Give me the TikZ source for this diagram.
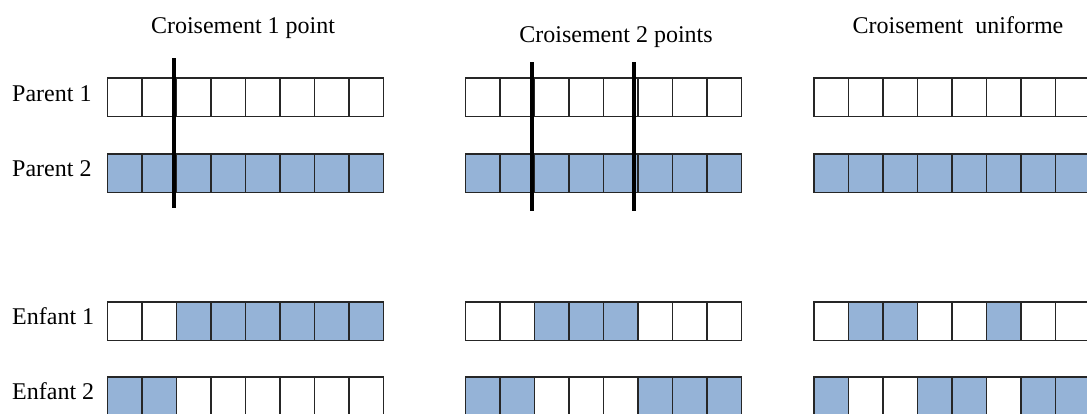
\documentclass[tikz,border=0pt]{standalone}
\usepackage{fontspec}
\setmainfont{Liberation Serif}
\usetikzlibrary{positioning, calc}
\definecolor{geneBlue}{RGB}{149,179,215}
\definecolor{geneEdge}{RGB}{38,38,38}

% one chromosome: name, left x, centre y, list of gene styles
\newcommand{\chromo}[4]{%
  \foreach \g [count=\i] in {#4}
    \node[cell, \g] (#1-\i) at ({#2+(\i-0.5)*34.5}, #3) {};%
}

\begin{document}
\begin{tikzpicture}[
    x=1pt, y=-1pt,
    cell/.style={rectangle, draw=geneEdge, line width=1.3pt, minimum width=34.5pt, minimum height=38.5pt, inner sep=0pt, outer sep=0pt},
    blank/.style={fill=white},
    filled/.style={fill=geneBlue},
    cutline/.style={line width=4pt, black},
    title/.style={font=\fontsize{24}{28}\selectfont, anchor=base, inner sep=0pt},
    rowlbl/.style={font=\fontsize{24}{28}\selectfont, anchor=base west, inner sep=0pt}
]
\useasboundingbox (0,0) rectangle (1087,413);

% --- Titles ---
\node[title] (titA) at (243,33) {Croisement 1 point};
\node[title] (titB) at (616,42) {Croisement 2 points};
\node[title] (titC) at (958,33) {Croisement~~uniforme};

% --- Row labels ---
\node[rowlbl] (lp1) at (12,101) {Parent 1};
\node[rowlbl] (lp2) at (12,176) {Parent 2};
\node[rowlbl] (le1) at (12,324) {Enfant 1};
\node[rowlbl] (le2) at (12,399) {Enfant 2};

% --- Croisement 1 point ---
\chromo{a-p1}{107.5}{97.3}{blank,blank,blank,blank,blank,blank,blank,blank}
\chromo{a-p2}{107.5}{173.3}{filled,filled,filled,filled,filled,filled,filled,filled}
\chromo{a-e1}{107.5}{321.3}{blank,blank,filled,filled,filled,filled,filled,filled}
\chromo{a-e2}{107.5}{396.3}{filled,filled,blank,blank,blank,blank,blank,blank}

% --- Croisement 2 points ---
\chromo{b-p1}{465.5}{97.3}{blank,blank,blank,blank,blank,blank,blank,blank}
\chromo{b-p2}{465.5}{173.3}{filled,filled,filled,filled,filled,filled,filled,filled}
\chromo{b-e1}{465.5}{321.3}{blank,blank,filled,filled,filled,blank,blank,blank}
\chromo{b-e2}{465.5}{396.3}{filled,filled,blank,blank,blank,filled,filled,filled}

% --- Croisement uniforme ---
\chromo{c-p1}{814}{97.3}{blank,blank,blank,blank,blank,blank,blank,blank}
\chromo{c-p2}{814}{173.3}{filled,filled,filled,filled,filled,filled,filled,filled}
\chromo{c-e1}{814}{321.3}{blank,filled,filled,blank,blank,filled,blank,blank}
\chromo{c-e2}{814}{396.3}{filled,blank,blank,filled,filled,blank,filled,filled}

% --- Cut points ---
\coordinate (cutA-top) at ($(a-p1-2.north east)+(-3,-20)$);
\coordinate (cutA-bot) at ($(a-p2-2.south east)+(-3,15)$);
\coordinate (cutB1-top) at ($(b-p1-2.north east)+(-3,-16)$);
\coordinate (cutB1-bot) at ($(b-p2-2.south east)+(-3,18)$);
\coordinate (cutB2-top) at ($(b-p1-5.north east)+(-4,-16)$);
\coordinate (cutB2-bot) at ($(b-p2-5.south east)+(-4,18)$);

\draw[cutline] (cutA-top) -- (cutA-bot);
\draw[cutline] (cutB1-top) -- (cutB1-bot);
\draw[cutline] (cutB2-top) -- (cutB2-bot);

\end{tikzpicture}
\end{document}
